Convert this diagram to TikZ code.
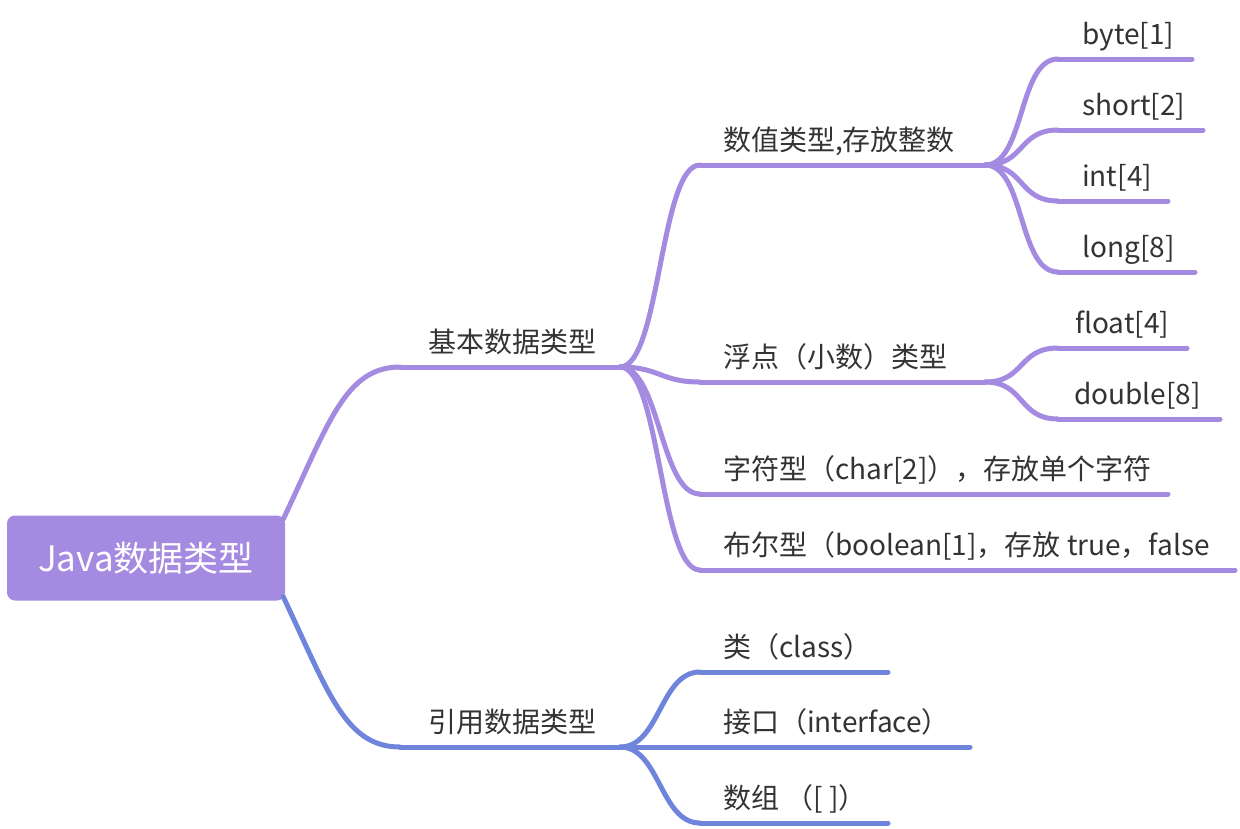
\documentclass[tikz,border=0pt]{standalone}
\usepackage{fontspec}
\setmainfont{Noto Sans CJK SC}
\definecolor{pc}{RGB}{164,138,224}
\definecolor{bc}{RGB}{111,133,219}
\definecolor{tc}{RGB}{51,51,51}
\tikzset{lbl/.style={anchor=base west,inner sep=0pt,text=tc,font=\fontsize{28}{30}\selectfont},
 ln/.style={line width=5pt,line cap=round},
 rootbox/.style={fill=pc,rounded corners=8pt,minimum width=278pt,minimum height=85pt,
  text=white,font=\fontsize{35}{40}\selectfont}}
\begin{document}
\begin{tikzpicture}[x=1pt,y=-1pt]
\useasboundingbox (0,0) rectangle (1240,828);
\node[rootbox] (java) at (146,558) {Java数据类型};
% topic lines with their labels
\foreach \n/\c/\y/\a/\b/\x/\t in {
 basic/pc/367/400/620/428/基本数据类型,
 ref/bc/747/400/620/428/引用数据类型,
 num/pc/165/700/985/723/{数值类型,存放整数},
 flt/pc/382/700/985/723/浮点（小数）类型,
 chr/pc/494/700/1168/723/字符型（char[2]），存放单个字符,
 bool/pc/570/700/1235/723/布尔型（boolean[1]，存放 true，false,
 byte/pc/59/1058/1192/1082/byte[1],
 short/pc/130/1058/1203/1082/short[2],
 int/pc/201/1058/1168/1082/int[4],
 long/pc/272/1058/1195/1082/long[8],
 float/pc/348/1058/1187/1075/float[4],
 double/pc/419/1058/1220/1074/double[8],
 cls/bc/672/700/888/723/类（class）,
 itf/bc/747/700/970/723/接口（interface）,
 arr/bc/823/700/888/723/数组 （[ ]）}{
 \coordinate (\n-l) at (\a,\y);
 \coordinate (\n-r) at (\b,\y);
 \draw[ln,\c] (\n-l)--(\n-r);
 \node[lbl] (\n) at (\x,\y-15) {\t};
}
\draw[ln,pc] ([shift={(-2,4)}]java.north east) .. controls +(45,-95) and +(-55,0) .. (basic-l);
\draw[ln,bc] ([shift={(-2,-4)}]java.south east) .. controls +(45,95) and +(-55,0) .. (ref-l);
\foreach \u/\v/\c in {basic/num/pc,basic/flt/pc,basic/chr/pc,basic/bool/pc,
 num/byte/pc,num/short/pc,num/int/pc,num/long/pc,flt/float/pc,flt/double/pc,
 ref/cls/bc,ref/itf/bc,ref/arr/bc}{
 \draw[ln,\c] (\u-r) .. controls +(40,0) and +(-40,0) .. (\v-l);
}
\end{tikzpicture}
\end{document}
